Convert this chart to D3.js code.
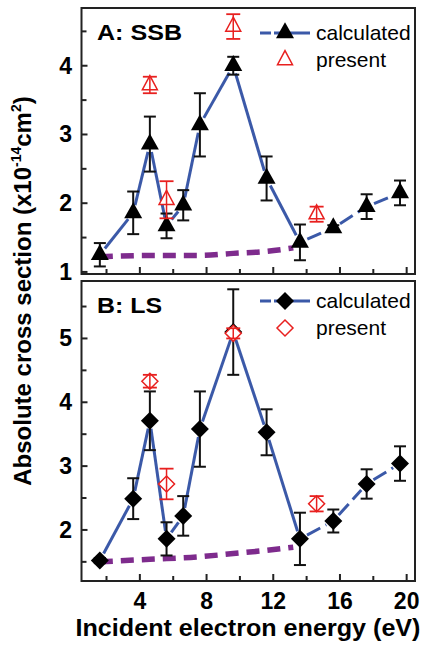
<!DOCTYPE html>
<html><head><meta charset="utf-8">
<script src="https://cdn.jsdelivr.net/npm/d3@7"></script>
<style>body{margin:0;background:#fff}svg{display:block}text{font-family:"Liberation Sans",Arial,sans-serif}</style>
</head><body>
<script>
// ---- data ----
const energies = [1.6,3.6,4.6,5.6,6.6,7.6,9.6,11.6,13.6,15.6,17.6,19.6];
const ssbCalc    = [1.25,1.86,2.86,1.67,1.97,3.14,4.0,2.36,1.43,1.64,1.95,2.15];
const ssbCalcErr = [0.17,0.31,0.40,0.18,0.22,0.46,0.13,0.32,0.26,0.04,0.18,0.18];
const lsCalc     = [1.52,2.49,3.71,1.86,2.22,3.58,5.10,3.53,1.86,2.14,2.72,3.04];
const lsCalcErr  = [0.04,0.32,0.46,0.26,0.31,0.59,0.67,0.36,0.41,0.18,0.23,0.27];
const presentE = [4.6,5.6,9.6,14.6];
const ssbPresent    = [3.72,2.05,4.57,1.84];
const ssbPresentErr = [0.12,0.27,0.18,0.11];
const lsPresent     = [4.33,2.72,5.08,2.41];
const lsPresentErr  = [0.10,0.24,0.08,0.12];
const baseE   = [1.6,4.6,7.6,9.6,11.6,13.2];
const ssbBase = [1.22,1.24,1.24,1.27,1.30,1.35];
const lsBase  = [1.50,1.54,1.58,1.63,1.68,1.73];
const xTicks = [4,8,12,16,20];
const xMinor = [2,6,10,14,18];
const ssbYTicks = [1,2,3,4];
const ssbYMinor = [1.5,2.5,3.5,4.5];
const lsYTicks = [2,3,4,5];
const lsYMinor = [1.5,2.5,3.5,4.5,5.5];

const W=428,H=650;
const BLUE="#3b59a8", PURPLE="#7e2b8d", RED="#e8201f";
const svg=d3.select("body").append("svg").attr("width",W).attr("height",H);
const x=d3.scaleLinear().domain([0.5,20.5]).range([81.5,415]);
const yA=d3.scaleLinear().domain([0.97,4.84]).range([274,8]);
const yB=d3.scaleLinear().domain([1.2,5.9]).range([581,281]);

function tri(cx,cy,w,h){return `M${cx},${cy-h*2/3}L${cx+w/2},${cy+h/3}L${cx-w/2},${cy+h/3}Z`;}
function dia(cx,cy,w,h){return `M${cx},${cy-h/2}L${cx+w/2},${cy}L${cx},${cy+h/2}L${cx-w/2},${cy}Z`;}

function panel(y, calc, err, pres, presErr, base, shape, yT, yM, title, showXLabels, legendY){
  const g=svg.append("g");
  const [y0,y1]=y.range();
  const gap=8;
  for(let i=0;i<energies.length-1;i++){
    const ax=x(energies[i]),ay=y(calc[i]),bx=x(energies[i+1]),by=y(calc[i+1]);
    const L=Math.hypot(bx-ax,by-ay),ux=(bx-ax)/L,uy=(by-ay)/L;
    g.append("line").attr("x1",ax+ux*gap).attr("y1",ay+uy*gap).attr("x2",bx-ux*gap).attr("y2",by-uy*gap)
      .attr("stroke",BLUE).attr("stroke-width",3)
      .attr("stroke-dasharray",i>=8?"15,6":null);
  }
  g.append("path").datum(baseE.map((e,i)=>[e,base[i]]))
    .attr("d",d3.line().x(d=>x(d[0])).y(d=>y(d[1])).curve(d3.curveMonotoneX))
    .attr("fill","none").attr("stroke",PURPLE).attr("stroke-width",5.5).attr("stroke-dasharray","13,8");
  energies.forEach((e,i)=>{
    const cx=x(e),t=y(calc[i]+err[i]),b=y(calc[i]-err[i]);
    g.append("line").attr("x1",cx).attr("x2",cx).attr("y1",t).attr("y2",b).attr("stroke","#111").attr("stroke-width",2);
    [t,b].forEach(v=>g.append("line").attr("x1",cx-6).attr("x2",cx+6).attr("y1",v).attr("y2",v).attr("stroke","#111").attr("stroke-width",2));
  });
  energies.forEach((e,i)=>{
    g.append("path").attr("d",shape==="tri"?tri(x(e),y(calc[i]),18,16):dia(x(e),y(calc[i]),18,18)).attr("fill","#000");
  });
  presentE.forEach((e,i)=>{
    const cx=x(e),cy=y(pres[i]);
    g.append("path").attr("d",shape==="tri"?tri(cx,cy,15,14):dia(cx,cy,16,16)).attr("fill","#fff").attr("stroke",RED).attr("stroke-width",1.5);
    const t=y(pres[i]+presErr[i]),b=y(pres[i]-presErr[i]);
    g.append("line").attr("x1",cx).attr("x2",cx).attr("y1",t).attr("y2",b).attr("stroke",RED).attr("stroke-width",1.5);
    [t,b].forEach(v=>g.append("line").attr("x1",cx-7).attr("x2",cx+7).attr("y1",v).attr("y2",v).attr("stroke",RED).attr("stroke-width",1.8));
  });
  g.append("rect").attr("x",x.range()[0]).attr("y",y1).attr("width",x.range()[1]-x.range()[0]).attr("height",y0-y1)
    .attr("fill","none").attr("stroke","#222").attr("stroke-width",2);
  xTicks.forEach(t=>g.append("line").attr("x1",x(t)).attr("x2",x(t)).attr("y1",y0).attr("y2",y0-7).attr("stroke","#222").attr("stroke-width",2));
  xMinor.forEach(t=>g.append("line").attr("x1",x(t)).attr("x2",x(t)).attr("y1",y0).attr("y2",y0-5).attr("stroke","#222").attr("stroke-width",2));
  const X0=x.range()[0];
  yT.forEach(t=>g.append("line").attr("x1",X0).attr("x2",X0+6).attr("y1",y(t)).attr("y2",y(t)).attr("stroke","#222").attr("stroke-width",2));
  yM.forEach(t=>g.append("line").attr("x1",X0).attr("x2",X0+5).attr("y1",y(t)).attr("y2",y(t)).attr("stroke","#222").attr("stroke-width",2));
  yT.forEach(t=>g.append("text").attr("x",72).attr("y",y(t)+8).attr("text-anchor","end")
    .attr("font-size",23).attr("font-weight","bold").text(t));
  if(showXLabels) xTicks.forEach(t=>g.append("text").attr("x",x(t)).attr("y",609).attr("text-anchor","middle")
    .attr("font-size",23).attr("font-weight","bold").text(t));
  g.append("text").attr("x",97).attr("y",title.y).attr("font-size",22).attr("font-weight","bold")
    .attr("textLength",title.len).attr("lengthAdjust","spacingAndGlyphs").text(title.text);
  const ly=legendY;
  g.append("line").attr("x1",260).attr("x2",310).attr("y1",ly).attr("y2",ly).attr("stroke",BLUE).attr("stroke-width",3).attr("stroke-dasharray","11,3,36");
  g.append("path").attr("d",shape==="tri"?tri(285,ly,18,16):dia(285,ly,18,18)).attr("fill","#000");
  g.append("text").attr("x",316).attr("y",ly+7).attr("font-size",21).text("calculated");
  g.append("path").attr("d",shape==="tri"?tri(285,ly+27,15,14):dia(285,ly+27,16,16)).attr("fill","#fff").attr("stroke",RED).attr("stroke-width",1.5);
  g.append("text").attr("x",316).attr("y",ly+34).attr("font-size",21).text("present");
}

panel(yA, ssbCalc, ssbCalcErr, ssbPresent, ssbPresentErr, ssbBase, "tri", ssbYTicks, ssbYMinor,
  {text:"A: SSB",y:40,len:85}, false, 33);
panel(yB, lsCalc, lsCalcErr, lsPresent, lsPresentErr, lsBase, "dia", lsYTicks, lsYMinor,
  {text:"B: LS",y:313,len:65}, true, 301);

svg.append("text").attr("x",248).attr("y",636).attr("text-anchor","middle").attr("font-size",24).attr("font-weight","bold")
  .attr("textLength",345).attr("lengthAdjust","spacingAndGlyphs").text("Incident electron energy (eV)");
const yl=svg.append("text").attr("transform","translate(31,291) rotate(-90)").attr("text-anchor","middle")
  .attr("font-size",24).attr("font-weight","bold");
yl.append("tspan").text("Absolute cross section (x10");
yl.append("tspan").attr("font-size",14).attr("dy",-10).text("-14");
yl.append("tspan").attr("dy",10).text("cm");
yl.append("tspan").attr("font-size",14).attr("dy",-10).text("2");
yl.append("tspan").attr("dy",10).text(")");
</script>
</body></html>
